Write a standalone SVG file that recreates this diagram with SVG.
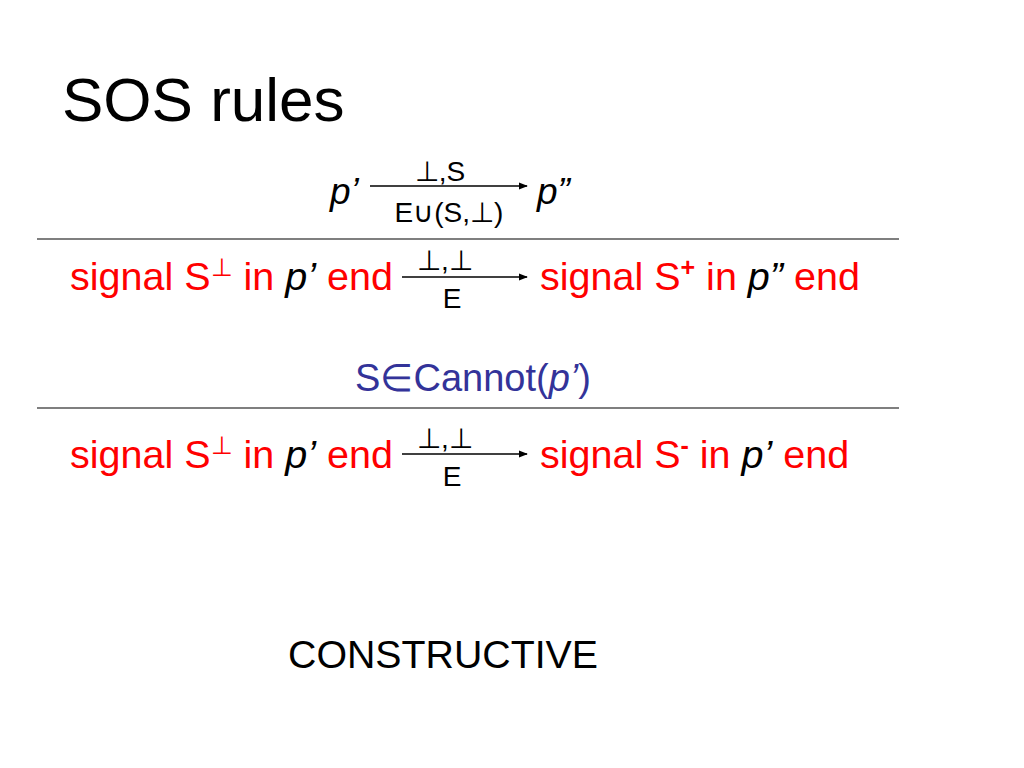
<svg xmlns="http://www.w3.org/2000/svg" width="1024" height="768" viewBox="0 0 1024 768">
<style>
text{font-family:"Liberation Sans",Arial,sans-serif;}
.red{fill:#ff0000;font-size:39.5px;}
.it{font-style:italic;fill:#000;}
.lbl{font-size:28px;fill:#000;text-anchor:middle;}
.rule{stroke:#555;stroke-width:1.5;}
.arr{stroke:#000;stroke-width:1.5;fill:none;marker-end:url(#ah);}
</style>
<defs>
<marker id="ah" viewBox="0 0 10 10" refX="9" refY="5" markerWidth="9" markerHeight="9" markerUnits="userSpaceOnUse" orient="auto">
<path d="M0,1 L10,5 L0,9 Z" fill="#000"/>
</marker>
</defs>
<rect width="1024" height="768" fill="#fff"/>
<g id="title"><text x="62" y="121" font-size="62">SOS rules</text></g>
<g id="premise-top">
<text x="330" y="204" font-size="37" class="it">p’</text>
<text x="440" y="181" class="lbl" font-size="27">⊥,S</text>
<text x="449" y="222" class="lbl" font-size="29">E∪(S,⊥)</text>
<text x="537" y="204" font-size="37" class="it">p”</text>
</g>
<g id="rules">
<line x1="37" y1="239" x2="899" y2="239" class="rule"/>
<line x1="37" y1="408" x2="899" y2="408" class="rule"/>
</g>
<g id="row1-left"><text x="70" y="290" class="red">signal S<tspan font-size="25" dy="-14">⊥</tspan><tspan dy="14"> in </tspan><tspan class="it">p’</tspan> end</text></g>
<g id="row1-label">
<text x="445" y="270" class="lbl" font-size="27">⊥,⊥</text>
<text x="452" y="308" class="lbl" font-size="29">E</text>
</g>
<g id="row1-right"><text x="540" y="290" class="red">signal S<tspan font-size="25" font-weight="bold" dy="-14">+</tspan><tspan dy="14"> in </tspan><tspan class="it">p”</tspan> end</text></g>
<g id="premise2"><text x="473" y="391" font-size="38" fill="#333399" text-anchor="middle">S∈Cannot(<tspan font-style="italic">p’</tspan>)</text></g>
<g id="row2-left"><text x="70" y="468" class="red">signal S<tspan font-size="25" dy="-14">⊥</tspan><tspan dy="14"> in </tspan><tspan class="it">p’</tspan> end</text></g>
<g id="row2-label">
<text x="445" y="448" class="lbl" font-size="27">⊥,⊥</text>
<text x="452" y="486" class="lbl" font-size="29">E</text>
</g>
<g id="row2-right"><text x="540" y="468" class="red">signal S<tspan font-size="25" font-weight="bold" dy="-14">-</tspan><tspan dy="14"> in </tspan><tspan class="it">p’</tspan> end</text></g>
<g id="footer"><text x="288" y="668" font-size="39.3">CONSTRUCTIVE</text></g>
<g id="connectors">
<line x1="370" y1="186" x2="527" y2="186" class="arr"/>
<line x1="402" y1="277" x2="527" y2="277" class="arr"/>
<line x1="402" y1="454" x2="527" y2="454" class="arr"/>
</g>
</svg>
